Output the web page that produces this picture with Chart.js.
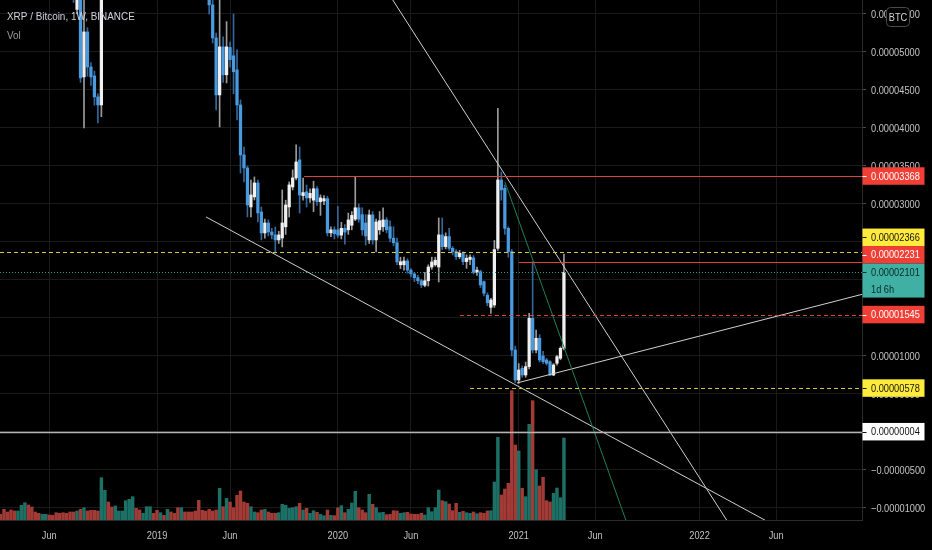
<!DOCTYPE html>
<html>
<head>
<meta charset="utf-8">
<title>XRP / Bitcoin, 1W, BINANCE</title>
<script src="https://cdn.jsdelivr.net/npm/chart.js@4.4.0/dist/chart.umd.min.js"></script>
<style>
  html, body { margin: 0; background: #000; }
  #wrap { width: 932px; height: 550px; position: relative; }
</style>
</head>
<body>
<div id="wrap"><canvas id="chart"></canvas></div>
<script>
// XRP/BTC weekly candles (Binance), one per week starting 26 Feb 2018.
// Prices in satoshi (1e-8 BTC).
const opens = [
  10400, 9800, 8900, 8500, 8100, 7600, 8000, 8400, 9300, 8800,
  8400, 7900, 7700, 7800, 7950, 7500, 7300, 7050, 6850, 6650,
  6450, 6250, 5560, 6050, 4672, 5264, 4803, 4685, 4409, 4303,
  8400, 8600, 7200, 7000, 7200, 7350, 7700, 8300, 9200, 10100,
  9500, 9100, 9300, 9900, 10200, 9500, 9000, 9100, 8800, 8950,
  8700, 8500, 8100, 8250, 8050, 7850, 7650, 7400, 6950, 6750,
  6550, 5620, 5185, 4435, 5067, 4700, 5060, 4950, 4764, 4303,
  3645, 3474, 2961, 3093, 3277, 2895, 2619, 2750, 2632, 2593,
  2527, 2553, 2700, 2961, 3224, 3343, 3580, 3110, 3160, 3080,
  3050, 3200, 3030, 3040, 3070, 2620, 2660, 2660, 2590, 2680,
  2660, 2720, 2800, 2950, 2860, 2750, 2527, 2856, 2527, 2660,
  2700, 2790, 2700, 2550, 2490, 2200, 2200, 2250, 2130, 2080,
  2030, 1990, 1930, 1990, 2171, 2200, 2171, 2593, 2439, 2571,
  2417, 2373, 2307, 2351, 2242, 2270, 2290, 2100, 2110, 1978,
  1800, 1640, 1671, 2417, 3316, 3207, 2680, 2373, 1079, 684,
  838, 750, 860, 1496, 1079, 1233, 1000, 948, 925, 750,
  904, 970, 1101
];
const highs = [
  10900, 10000, 9300, 8900, 8300, 8200, 8600, 9700, 9600, 9100,
  8500, 8100, 8000, 8100, 8000, 7700, 7450, 7200, 7000, 6800,
  6600, 6400, 6300, 6150, 5800, 5320, 4860, 4750, 4450, 11500,
  9400, 8800, 7500, 7400, 7500, 7900, 8600, 9600, 10600, 10300,
  9700, 9500, 10200, 10600, 10300, 9600, 9300, 9200, 9100, 9000,
  8800, 8600, 8400, 8300, 8150, 7950, 7700, 7500, 7100, 6850,
  6700, 5700, 5250, 5750, 5200, 5400, 5130, 5500, 5027, 4369,
  3750, 3500, 3316, 3356, 3316, 2961, 2800, 2790, 2680, 2698,
  2640, 3185, 3050, 3290, 3448, 3777, 3750, 3340, 3250, 3200,
  3300, 3230, 3120, 3110, 3100, 2700, 2700, 2970, 2760, 2730,
  2880, 2900, 3356, 3000, 2950, 2860, 2920, 2900, 2800, 2900,
  2950, 2820, 2780, 2700, 2550, 2300, 2300, 2280, 2150, 2100,
  2060, 2010, 2100, 2200, 2300, 2300, 2816, 2816, 2620, 2680,
  2440, 2400, 2390, 2370, 2330, 2330, 2320, 2170, 2130, 1990,
  1830, 1760, 2520, 4259, 3420, 3250, 2700, 2400, 1130, 900,
  870, 920, 1560, 2242, 1342, 1280, 1060, 970, 940, 900,
  1010, 1120, 2340
];
const lows = [
  9500, 8600, 8300, 7900, 7400, 7400, 7900, 8300, 8600, 8200,
  7700, 7500, 7500, 7600, 7400, 7100, 6900, 6700, 6500, 6300,
  6100, 5650, 5500, 4600, 4000, 4680, 4560, 4300, 4066, 4150,
  7700, 7000, 6900, 6900, 7100, 7200, 7600, 8200, 9000, 9300,
  8900, 8900, 9100, 9700, 9300, 8800, 8900, 8600, 8700, 8500,
  8400, 7900, 8000, 7900, 7700, 7500, 7200, 6800, 6600, 6400,
  5500, 5119, 4237, 4014, 4600, 4593, 4800, 4450, 4106, 3408,
  3290, 2829, 2829, 3053, 2764, 2527, 2550, 2580, 2540, 2356,
  2480, 2435, 2600, 2829, 3185, 3316, 2882, 3050, 2960, 3020,
  2900, 2980, 2850, 2990, 2580, 2570, 2540, 2560, 2540, 2470,
  2600, 2660, 2780, 2760, 2590, 2460, 2480, 2470, 2369, 2600,
  2640, 2620, 2500, 2450, 2200, 2150, 2130, 2090, 2040, 1980,
  1950, 1900, 1910, 1920, 2140, 2180, 1974, 2400, 2410, 2390,
  2330, 2270, 2280, 2200, 2154, 2200, 2080, 2060, 1900, 1790,
  1660, 1560, 1640, 2390, 3050, 2600, 2300, 1000, 650, 640,
  720, 720, 830, 1040, 1040, 920, 900, 880, 740, 740,
  880, 950, 1080
];
const closes = [
  9800, 8900, 8500, 8100, 7600, 8000, 8400, 9300, 8800, 8400,
  7900, 7700, 7800, 7950, 7500, 7300, 7050, 6850, 6650, 6450,
  6250, 5700, 6050, 4659, 5264, 4803, 4672, 4409, 4303, 8400,
  8600, 7200, 7000, 7200, 7350, 7700, 8300, 9200, 10100, 9500,
  9100, 9300, 9900, 10200, 9500, 9000, 9100, 8800, 8950, 8700,
  8500, 8100, 8250, 8050, 7850, 7650, 7400, 6950, 6750, 6550,
  5620, 5185, 4435, 5067, 4700, 5067, 4900, 4740, 4303, 3645,
  3474, 2987, 3119, 3277, 2882, 2619, 2750, 2632, 2593, 2527,
  2593, 2750, 2987, 3251, 3343, 3553, 3119, 3150, 3080, 3140,
  3200, 3030, 3080, 3070, 2620, 2660, 2610, 2590, 2680, 2630,
  2790, 2850, 2950, 2800, 2660, 2580, 2856, 2527, 2764, 2780,
  2790, 2660, 2550, 2490, 2237, 2240, 2250, 2130, 2080, 2030,
  1990, 1935, 1990, 2171, 2237, 2260, 2593, 2439, 2571, 2417,
  2373, 2307, 2351, 2242, 2286, 2300, 2100, 2130, 1935, 1825,
  1700, 1737, 2400, 3316, 3185, 2680, 2373, 1079, 684, 816,
  750, 860, 1496, 1079, 1233, 948, 925, 904, 750, 882,
  991, 1101, 2101
];
// weekly volume, in the units of the hidden volume scale
const volumes = [
  57, 107, 80, 100, 90, 90, 147, 173, 150, 130,
  80, 67, 57, 57, 50, 47, 73, 67, 73, 67,
  80, 80, 90, 107, 123, 90, 97, 97, 90, 423,
  297, 180, 130, 140, 90, 90, 193, 207, 233, 117,
  100, 67, 133, 133, 67, 97, 73, 47, 107, 80,
  67, 123, 123, 80, 80, 80, 90, 197, 97, 90,
  107, 90, 100, 317, 133, 217, 180, 123, 247, 290,
  180, 167, 133, 80, 73, 100, 107, 80, 67, 67,
  73, 157, 147, 117, 123, 133, 167, 100, 117, 67,
  93, 77, 57, 43, 100, 47, 43, 123, 143, 73,
  107, 170, 287, 123, 100, 73, 257, 157, 123, 73,
  77, 53, 57, 93, 90, 67, 73, 77, 60, 57,
  57, 67, 50, 123, 83, 123, 300, 193, 183, 160,
  93, 167, 77, 87, 73, 67, 80, 63, 73, 67,
  90, 93, 380, 827, 250, 310, 367, 1293, 750, 690,
  317, 233, 957, 1193, 503, 340, 427, 193, 180, 267,
  320, 223, 820
];

// time axis: week numbers that carry a label
const tickWeeks  = [14, 45, 66, 97, 118, 149, 171, 201, 223];
const tickLabels = ['Jun', '2019', 'Jun', '2020', 'Jun', '2021', 'Jun', '2022', 'Jun'];
const priceTicks = [-1000, -500, 0, 500, 1000, 1500, 2000, 2500, 3000, 3500, 4000, 4500, 5000, 5500];

// horizontal levels drawn on the chart (satoshi) and the week where each ray starts
const levelPrices = [3368, 2366, 2231, 2101, 1545, 578, 4];
const levelStart  = [87.3, null, 149, null, 132.1, 135, null];

// hand drawn trend lines, [week, price] at both ends
const trendLines = [
  [[112.7, 5690], [208.8, -1160]],
  [[59.1, 2829], [219.8, -1160]],
  [[148.5, 645], [247.7, 1811]],
  [[145.0, 3294], [179.8, -1160]]
];

const levelLook = [
  { line: '#d9453b', dash: [],     bg: '#f23f36', fg: '#ffffff' },
  { line: '#d8c640', dash: [4, 3], bg: '#ffeb3b', fg: '#131313' },
  { line: '#d9453b', dash: [],     bg: '#f23f36', fg: '#ffffff' },
  { line: '#2f9a8f', dash: [1, 2], bg: '#3fb0a3', fg: '#0c2a26', sub: '1d 6h' },
  { line: '#d9453b', dash: [4, 3], bg: '#f23f36', fg: '#ffffff' },
  { line: '#d8c640', dash: [4, 3], bg: '#ffeb3b', fg: '#131313' },
  { line: '#b4b4b4', dash: [],     bg: '#ffffff', fg: '#131313', width: 1.6 }
];
const trendColors = ['#cfcfcf', '#cfcfcf', '#cfcfcf', '#1f7f58'];

const UP_BODY = '#f0f0f0', UP_WICK = '#9b9b9b';
const DN_BODY = '#4a9ae0', DN_WICK = '#35689a';
const VOL_UP = '#1d7066', VOL_DN = '#a23b36';

// the screenshot text is horizontally condensed, so labels are drawn squeezed
const SQUEEZE = 0.84;
const FAMILY = '"Liberation Sans", Arial, sans-serif';
const AXIS_FONT = '11px ' + FAMILY;
const TITLE_FONT = '11.8px ' + FAMILY;
const AXIS_TEXT = '#c3c3c3';

const fmtPrice = v => (v < 0 ? '\u2212' : '') + (Math.abs(v) / 1e8).toFixed(8);

function squeezed(ctx, text, x, y, align) {
  ctx.save();
  ctx.translate(x, y);
  ctx.scale(SQUEEZE, 1);
  ctx.textAlign = align || 'left';
  ctx.fillText(text, 0, 0);
  ctx.restore();
}

const weeks = opens.map((_, i) => i);
const isUp = weeks.map(i => closes[i] >= opens[i]);

const drawings = {
  id: 'drawings',
  afterDatasetsDraw(chart) {
    const { ctx, chartArea: a, scales: { x, y } } = chart;
    ctx.save();
    ctx.beginPath();
    ctx.rect(a.left, a.top, a.right - a.left, a.bottom - a.top);
    ctx.clip();
    trendLines.forEach((t, k) => {
      ctx.strokeStyle = trendColors[k];
      ctx.lineWidth = 1;
      ctx.beginPath();
      ctx.moveTo(x.getPixelForValue(t[0][0]), y.getPixelForValue(t[0][1]));
      ctx.lineTo(x.getPixelForValue(t[1][0]), y.getPixelForValue(t[1][1]));
      ctx.stroke();
    });
    levelPrices.forEach((p, k) => {
      const look = levelLook[k];
      const py = Math.round(y.getPixelForValue(p)) + 0.5;
      const x0 = levelStart[k] == null ? a.left : x.getPixelForValue(levelStart[k]);
      ctx.strokeStyle = look.line;
      ctx.lineWidth = look.width || 1;
      ctx.setLineDash(look.dash);
      ctx.beginPath();
      ctx.moveTo(x0, py);
      ctx.lineTo(a.right, py);
      ctx.stroke();
    });
    ctx.restore();

    // axis labels
    ctx.save();
    ctx.font = AXIS_FONT;
    ctx.fillStyle = AXIS_TEXT;
    ctx.textBaseline = 'middle';
    priceTicks.forEach(v => squeezed(ctx, fmtPrice(v), a.right + 9, y.getPixelForValue(v) + 0.5));
    tickWeeks.forEach((w, k) => squeezed(ctx, tickLabels[k], x.getPixelForValue(w), a.bottom + 15.5, 'center'));
    ctx.restore();
  },
  afterDraw(chart) {
    const { ctx, chartArea: a, scales: { y } } = chart;
    const H = 17.5;
    // price tags on the axis, pushed apart around the live price tag
    const tags = levelPrices.map((p, k) => {
      const look = levelLook[k];
      const h = look.sub ? H * 2 - 1 : H;
      return { p, look, h, top: y.getPixelForValue(p) - H / 2 };
    });
    const anchor = tags.findIndex(t => t.look.sub);
    for (let i = anchor - 1; i >= 0; i--) {
      const below = tags[i + 1];
      if (tags[i].top + tags[i].h > below.top) tags[i].top = below.top - tags[i].h;
    }
    for (let i = anchor + 1; i < tags.length; i++) {
      const above = tags[i - 1];
      if (tags[i].top < above.top + above.h) tags[i].top = above.top + above.h;
    }
    ctx.save();
    ctx.font = AXIS_FONT;
    ctx.textBaseline = 'middle';
    tags.forEach(t => {
      const left = a.right + 0.5;
      ctx.fillStyle = t.look.bg;
      ctx.fillRect(left, t.top, 62, t.h);
      ctx.strokeStyle = t.look.fg;
      ctx.lineWidth = 1;
      ctx.beginPath();
      ctx.moveTo(left, Math.round(t.top + H / 2) + 0.5);
      ctx.lineTo(left + 4, Math.round(t.top + H / 2) + 0.5);
      ctx.stroke();
      ctx.fillStyle = t.look.fg;
      squeezed(ctx, fmtPrice(t.p), a.right + 9, t.top + H / 2 + 0.5);
      if (t.look.sub) squeezed(ctx, t.look.sub, a.right + 9, t.top + H * 1.5);
    });
    // currency badge at the top of the price axis
    const bx = a.right + 24, by = 7, bw = 23, bh = 19;
    ctx.fillStyle = '#000';
    ctx.strokeStyle = '#4a4a4a';
    ctx.beginPath();
    ctx.roundRect(bx + 0.5, by + 0.5, bw, bh, 4);
    ctx.fill();
    ctx.stroke();
    ctx.fillStyle = '#d1d4dc';
    squeezed(ctx, 'BTC', bx + bw / 2 + 0.5, by + bh / 2 + 1, 'center');
    // legend text top left
    ctx.font = TITLE_FONT;
    ctx.fillStyle = '#cfd2d9';
    squeezed(ctx, 'XRP / Bitcoin, 1W, BINANCE', 7, 17);
    ctx.fillStyle = '#9a9ca3';
    squeezed(ctx, 'Vol', 7, 36);
    ctx.restore();
  }
};

new Chart(document.getElementById('chart'), {
  type: 'bar',
  data: {
    datasets: [
      {
        label: 'Vol',
        data: weeks.map(i => ({ x: i, y: volumes[i] })),
        yAxisID: 'yVol',
        backgroundColor: weeks.map(i => isUp[i] ? VOL_UP : VOL_DN),
        barThickness: 2.8,
        grouped: false,
        order: 3
      },
      {
        label: 'wick',
        data: weeks.map(i => ({ x: i, y: [lows[i], highs[i]] })),
        yAxisID: 'y',
        backgroundColor: weeks.map(i => isUp[i] ? UP_WICK : DN_WICK),
        barThickness: 1,
        grouped: false,
        order: 2
      },
      {
        label: 'body',
        data: weeks.map(i => ({ x: i, y: [opens[i], closes[i]] })),
        yAxisID: 'y',
        backgroundColor: weeks.map(i => isUp[i] ? UP_BODY : DN_BODY),
        barThickness: 2.6,
        minBarLength: 1,
        grouped: false,
        order: 1
      }
    ]
  },
  options: {
    responsive: true,
    maintainAspectRatio: false,
    animation: false,
    layout: { padding: 0 },
    plugins: { legend: { display: false }, tooltip: { enabled: false } },
    scales: {
      x: {
        type: 'linear',
        min: -0.15,
        max: 247.7,
        offset: false,
        afterBuildTicks: s => { s.ticks = tickWeeks.map(v => ({ value: v })); },
        afterFit: s => { s.height = 30; },
        grid: { color: '#1a1a1a', drawTicks: false, offset: false },
        border: { color: '#2b2b2b' },
        ticks: { display: false }
      },
      y: {
        position: 'right',
        min: -1158,
        max: 5684,
        afterBuildTicks: s => { s.ticks = priceTicks.map(v => ({ value: v })); },
        afterFit: s => { s.width = 70; },
        grid: { color: '#1a1a1a', tickColor: '#4d4d4d', tickLength: 4 },
        border: { color: '#2b2b2b' },
        ticks: { display: false }
      },
      yVol: { display: false, min: 0, max: 5200 }
    }
  },
  plugins: [drawings]
});
</script>
</body>
</html>
